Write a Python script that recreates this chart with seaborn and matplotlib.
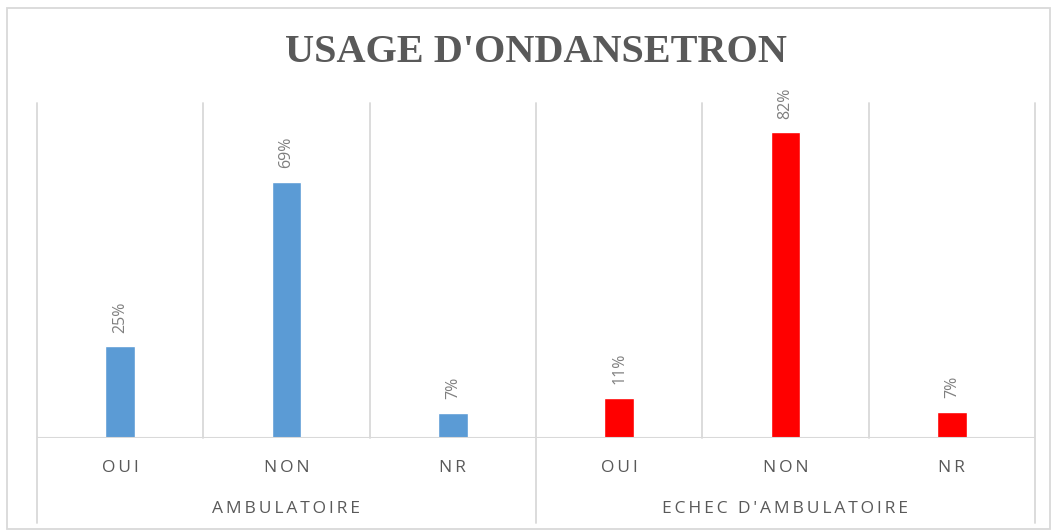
import seaborn as sns
import matplotlib.pyplot as plt
import pandas as pd
from matplotlib.patches import Rectangle

# Données
groupes = ['AMBULATOIRE', "ECHEC D'AMBULATOIRE"]
reponses = ['OUI', 'NON', 'NR']
valeurs_ambulatoire = [24.6, 68.7, 6.7]
valeurs_echec = [10.8, 82.1, 7.1]
titre = "USAGE D'ONDANSETRON"

couleurs = {'AMBULATOIRE': '#5b9bd5', "ECHEC D'AMBULATOIRE": '#ff0000'}
gris_texte = '#595959'
gris_ligne = '#d9d9d9'


def espacer(texte):
    # espacement des lettres, façon Excel
    return '\u2009'.join(texte)


lignes = []
for g, vals in zip(groupes, [valeurs_ambulatoire, valeurs_echec]):
    for r, v in zip(reponses, vals):
        lignes.append({'groupe': g, 'reponse': r, 'cle': g + '|' + r, 'valeur': v})
df = pd.DataFrame(lignes)

sns.set_theme(style='white')
plt.rcParams['font.family'] = ['Open Sans', 'DejaVu Sans']

fig = plt.figure(figsize=(10.55, 5.31), dpi=100)
ax = fig.add_axes([37 / 1055, 1 - 438 / 531, (1035 - 37) / 1055, (438 - 103) / 531])

sns.barplot(data=df, x='cle', y='valeur', hue='groupe', palette=couleurs,
            dodge=False, width=0.18, legend=False, ax=ax, saturation=1)

ax.set_xlim(-0.5, 5.5)
ax.set_ylim(0, 90)
ax.set_xlabel('')
ax.set_ylabel('')
ax.set_xticks([])
ax.set_yticks([])
for s in ax.spines.values():
    s.set_visible(False)

# quadrillage vertical
trans = ax.get_xaxis_transform()
for i in range(7):
    x = i - 0.5
    bas = -0.254 if i in (0, 3, 6) else 0
    ax.plot([x, x], [bas, 1], color=gris_ligne, lw=1.3, transform=trans,
            clip_on=False, zorder=0)
ax.axhline(0, color=gris_ligne, lw=1.5, zorder=3)

# étiquettes de données
for i, v in enumerate(df['valeur']):
    ax.annotate(f'{v:.0f}%', (i, v), xytext=(0, 10), textcoords='offset points',
                rotation=90, ha='center', va='bottom', fontsize=11.5, color='#7f7f7f')

# axe à deux niveaux
for i, r in enumerate(df['reponse']):
    ax.text(i, -0.0896, espacer(r), transform=trans, ha='center', va='center',
            fontsize=12.5, color=gris_texte)
for j, g in enumerate(groupes):
    ax.text(j * 3 + 1, -0.212, espacer(g), transform=trans, ha='center', va='center',
            fontsize=12.5, color=gris_texte)

fig.text(536 / 1055, 1 - 53 / 531, titre, ha='center', va='center',
         fontsize=29, fontweight='bold', color=gris_texte,
         family=['Liberation Serif', 'DejaVu Serif'])

fig.patches.append(Rectangle((7 / 1055, 1 - 529 / 531), (1050 - 7) / 1055, (529 - 8) / 531,
                             transform=fig.transFigure, fill=False,
                             edgecolor=gris_ligne, lw=1.3))

plt.savefig('out.png', dpi=100)
